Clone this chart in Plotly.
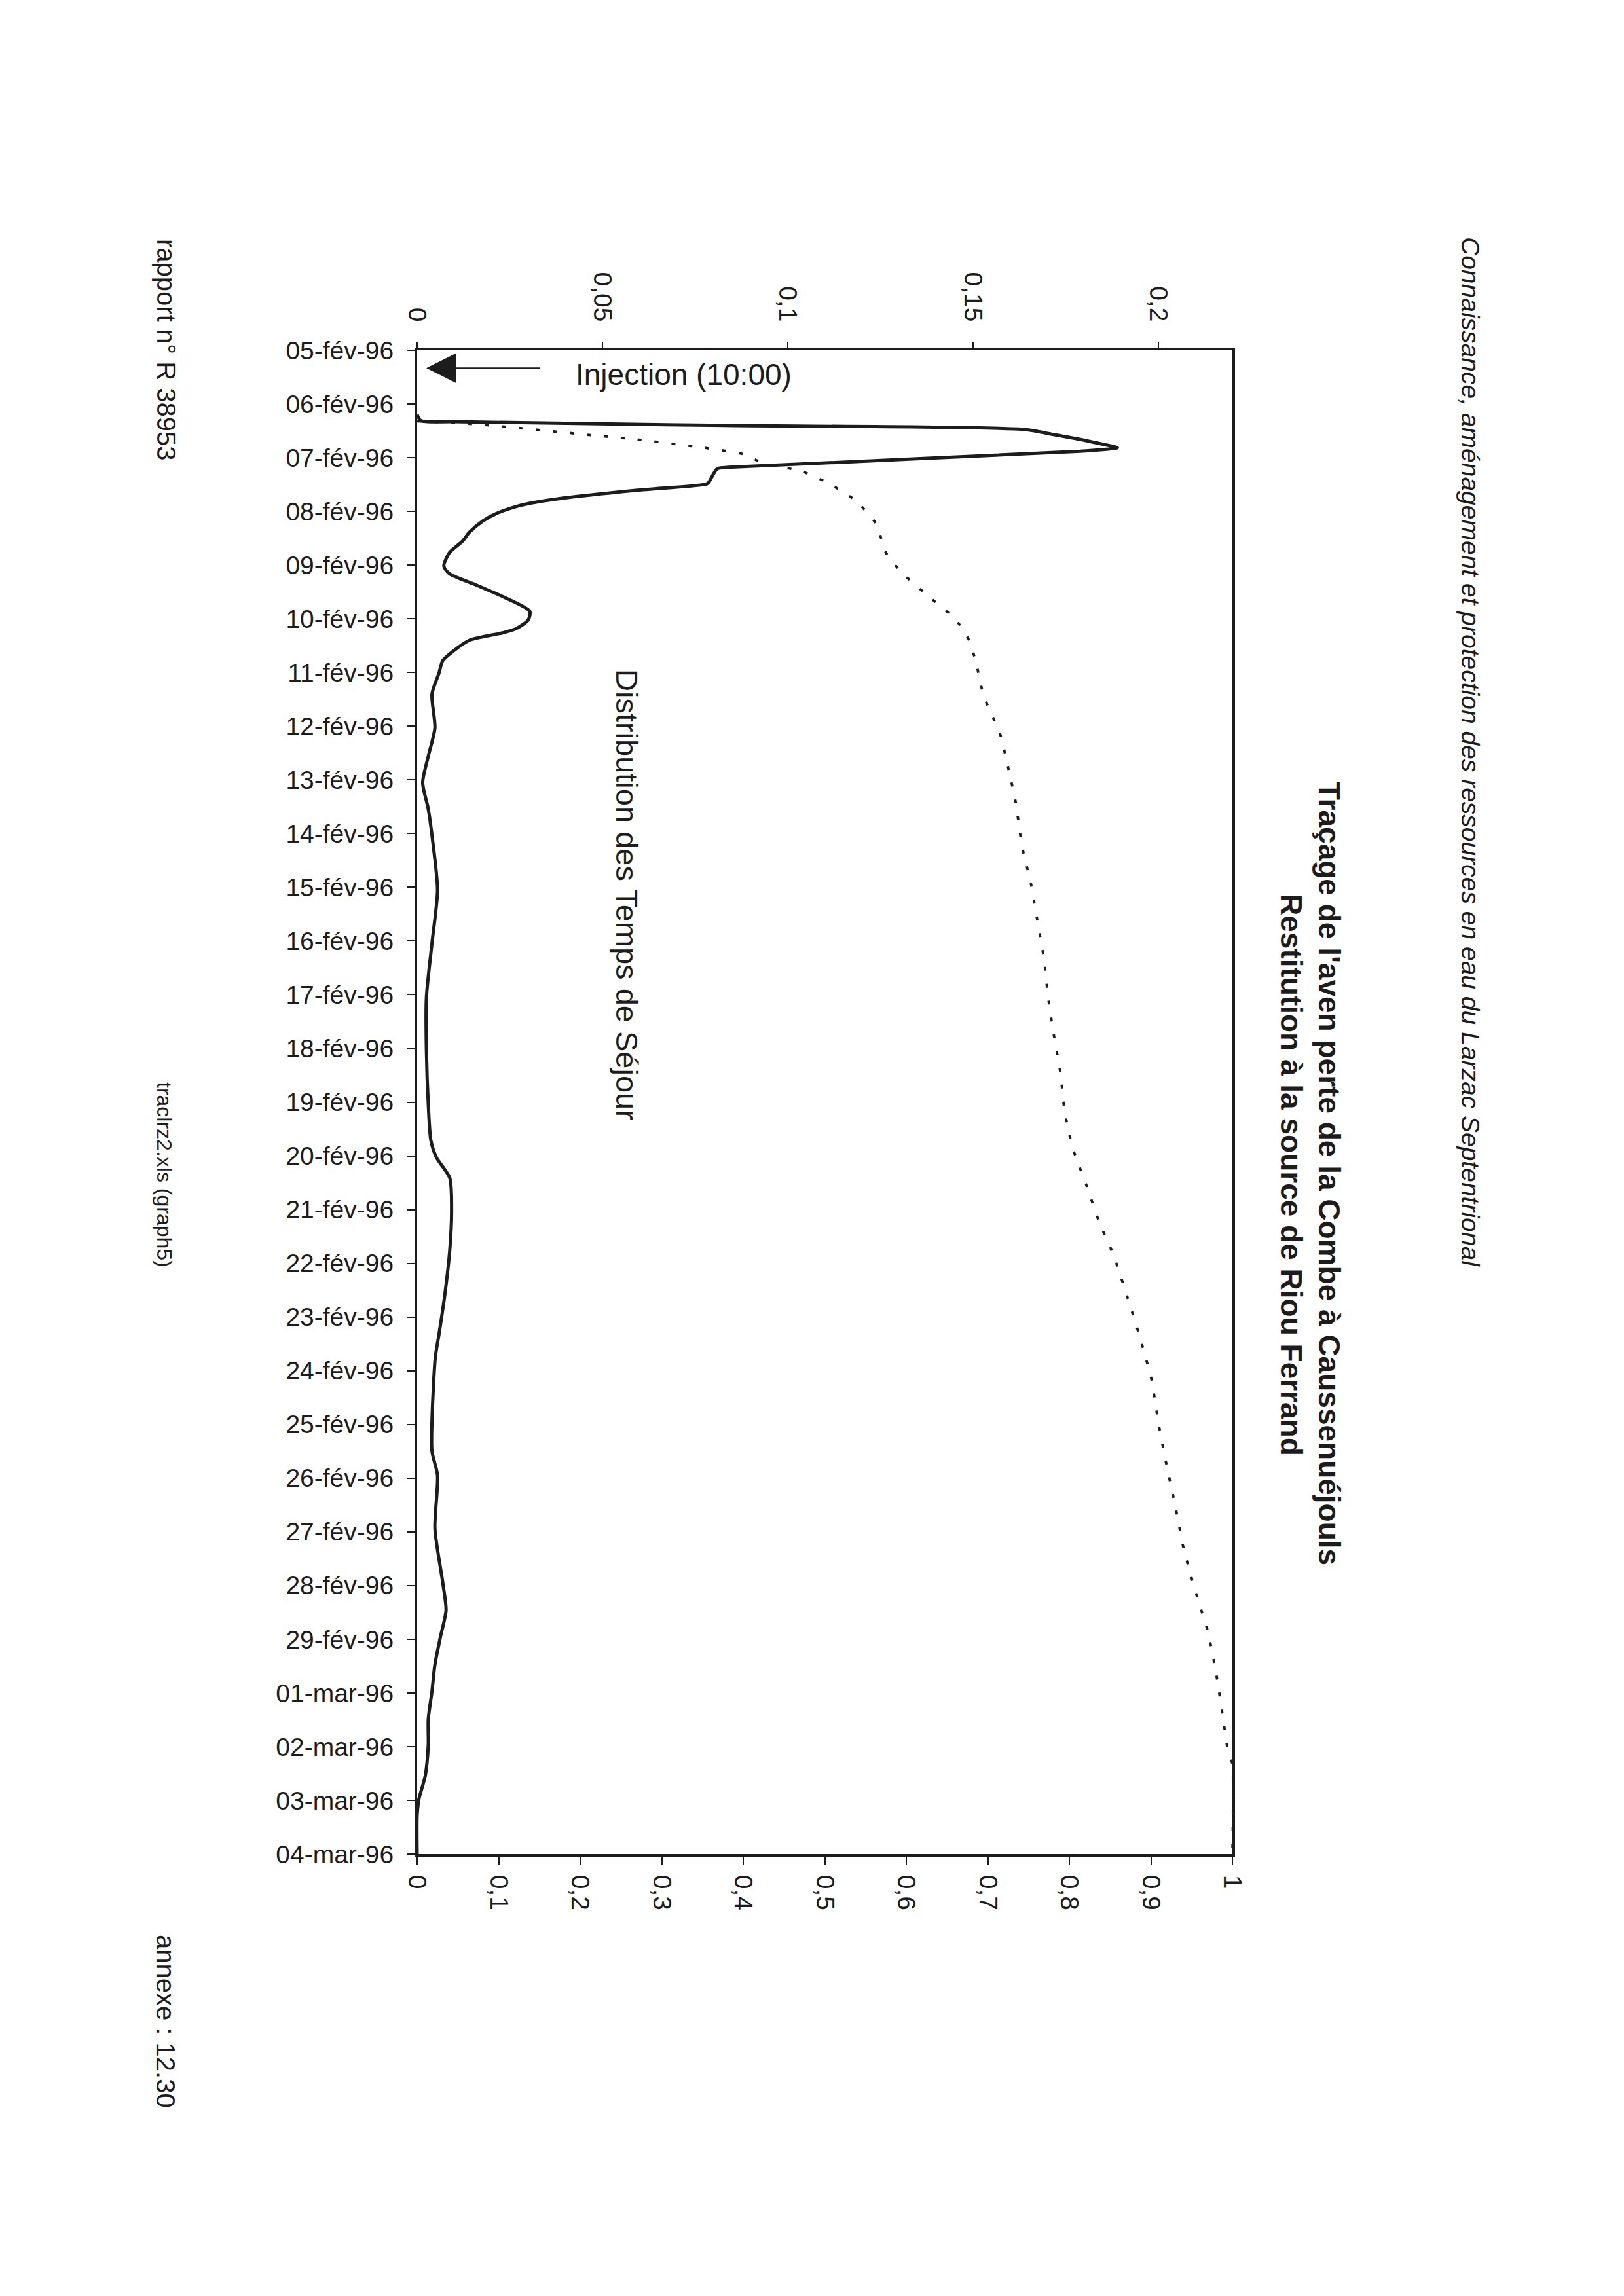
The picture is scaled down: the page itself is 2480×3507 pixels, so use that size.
import plotly.graph_objects as go
import pandas as pd

# ---------------- data ----------------
START = "1996-02-05"

# Distribution des Temps de Séjour (top axis, 0-0.22) — days after 05-fév-96 00:00
dts_days = [1.20, 1.31, 1.33, 1.40, 1.475, 1.56, 1.66, 1.75, 1.815, 1.88, 2.18, 2.205,
            2.30, 2.475, 2.50, 2.61, 2.77, 2.85, 2.91, 3.04, 3.18, 3.39, 3.55, 3.77,
            4.02, 4.16, 4.37, 4.59, 4.86, 5.02, 5.18, 5.26, 5.40, 5.61, 5.78, 6.01,
            6.40, 7.03, 7.56, 8.05, 8.54, 9.03, 10.05, 11.04, 12.05, 13.03, 14.03,
            14.71, 15.03, 15.41, 16.01, 16.76, 17.62, 18.32, 18.75, 19.94, 20.50,
            20.95, 21.94, 22.94, 23.46, 23.95, 24.47, 24.97, 25.49, 25.97, 26.54,
            26.97, 27.28, 28.00]
dts_vals = [0.000, 0.001, 0.010, 0.083, 0.164, 0.171, 0.179, 0.185, 0.189, 0.179, 0.084, 0.081,
            0.080, 0.0785, 0.0775, 0.059, 0.0376, 0.0304, 0.0268, 0.0214, 0.0177, 0.0141, 0.0123, 0.0087,
            0.0072, 0.0087, 0.0159, 0.0232, 0.0304, 0.0300, 0.0268, 0.0232, 0.0141, 0.0096, 0.0069, 0.0059,
            0.0040, 0.0048, 0.0030, 0.0015, 0.0030, 0.0040, 0.0055, 0.0040, 0.0025, 0.0025, 0.0030,
            0.0037, 0.0052, 0.0088, 0.0093, 0.0088, 0.0074, 0.0059, 0.0049, 0.0040, 0.0040,
            0.0055, 0.0048, 0.0069, 0.0078, 0.0063, 0.0048, 0.0040, 0.0030, 0.0030, 0.0022,
            0.0005, 0.0000, 0.0000]

# Restitution cumulée (bottom axis, 0-1)
cum_days = [1.32, 1.36, 1.46, 1.58, 1.66, 1.81, 1.93, 2.09, 2.26, 2.48, 2.80, 3.23, 3.77,
            4.15, 4.59, 5.02, 5.40, 5.78, 6.44, 7.14, 7.84, 8.40, 9.24, 9.94, 10.64,
            11.34, 12.05, 12.75, 13.45, 14.15, 14.85, 15.55, 16.25, 16.84, 17.62, 18.40,
            19.18, 19.95, 20.74, 21.52, 22.30, 23.08, 23.86, 24.63, 25.41, 26.03, 26.33, 28.00]
cum_vals = [0.000, 0.057, 0.134, 0.213, 0.269, 0.349, 0.399, 0.423, 0.473, 0.505, 0.538, 0.563, 0.575,
            0.595, 0.628, 0.661, 0.677, 0.685, 0.695, 0.715, 0.726, 0.734, 0.742, 0.753, 0.761,
            0.769, 0.774, 0.781, 0.789, 0.794, 0.804, 0.821, 0.837, 0.854, 0.871, 0.887,
            0.901, 0.909, 0.919, 0.930, 0.940, 0.954, 0.970, 0.980, 0.988, 0.994, 1.000, 1.000]

date_ticks = ["1996-02-05", "1996-02-06", "1996-02-07", "1996-02-08", "1996-02-09", "1996-02-10",
              "1996-02-11", "1996-02-12", "1996-02-13", "1996-02-14", "1996-02-15", "1996-02-16",
              "1996-02-17", "1996-02-18", "1996-02-19", "1996-02-20", "1996-02-21", "1996-02-22",
              "1996-02-23", "1996-02-24", "1996-02-25", "1996-02-26", "1996-02-27", "1996-02-28",
              "1996-02-29", "1996-03-01", "1996-03-02", "1996-03-03", "1996-03-04"]
date_labels = ["05-fév-96", "06-fév-96", "07-fév-96", "08-fév-96", "09-fév-96", "10-fév-96",
               "11-fév-96", "12-fév-96", "13-fév-96", "14-fév-96", "15-fév-96", "16-fév-96",
               "17-fév-96", "18-fév-96", "19-fév-96", "20-fév-96", "21-fév-96", "22-fév-96",
               "23-fév-96", "24-fév-96", "25-fév-96", "26-fév-96", "27-fév-96", "28-fév-96",
               "29-fév-96", "01-mar-96", "02-mar-96", "03-mar-96", "04-mar-96"]

top_ticks = [0, 0.05, 0.1, 0.15, 0.2]
top_labels = ["0", "0,05", "0,1", "0,15", "0,2"]
top_range = [0, 0.22]
bottom_ticks = [0, 0.1, 0.2, 0.3, 0.4, 0.5, 0.6, 0.7, 0.8, 0.9, 1.0]
bottom_labels = ["0", "0,1", "0,2", "0,3", "0,4", "0,5", "0,6", "0,7", "0,8", "0,9", "1"]
bottom_range = [0, 1]
date_range = ["1996-03-04", "1996-02-05"]   # reversed: time runs downward
injection_time = "1996-02-05 08:00"

# ---------------- figure ----------------
t0 = pd.Timestamp(START)
dts_t = t0 + pd.to_timedelta(dts_days, unit="D")
cum_t = t0 + pd.to_timedelta(cum_days, unit="D")

INK = "#1c1c1c"
FONT = "Liberation Sans"

fig = go.Figure()
fig.add_trace(go.Scatter(
    x=dts_vals, y=dts_t, xaxis="x2", yaxis="y", mode="lines",
    line=dict(color=INK, width=5, shape="spline", smoothing=0.7),
    showlegend=False, hoverinfo="skip"))
fig.add_trace(go.Scatter(
    x=cum_vals, y=cum_t, xaxis="x", yaxis="y", mode="lines",
    line=dict(color=INK, width=3.8, dash="6px,20px", shape="spline", smoothing=0.5),
    showlegend=False, hoverinfo="skip"))

tickfont = dict(family=FONT, size=39, color=INK)
common = dict(showgrid=False, zeroline=False, tickcolor=INK, tickwidth=2, linecolor=INK)

L, R, T, B = 629, 606, 527, 683
W, H = 2480, 3507
PW, PH = W - L - R, H - T - B


def px(x):
    return (x - L) / PW


def py(y):
    return (H - B - y) / PH


fig.update_layout(
    width=W, height=H,
    margin=dict(l=L, r=R, t=T, b=B, pad=0),
    paper_bgcolor="white", plot_bgcolor="white",
    showlegend=False,
    xaxis=dict(range=bottom_range, tickvals=bottom_ticks, ticktext=bottom_labels,
               side="bottom", anchor="y", tickangle=90, ticks="outside", ticklen=12,
               showline=True, linewidth=4, tickfont=tickfont, ticklabelstandoff=8, **common),
    xaxis2=dict(range=top_range, tickvals=top_ticks, ticktext=top_labels,
                overlaying="x", side="top", anchor="y", tickangle=90, ticks="outside",
                ticklen=8, showline=True, linewidth=4, tickfont=tickfont,
                ticklabelstandoff=18, **common),
    xaxis3=dict(range=bottom_range, tickvals=bottom_ticks, overlaying="x", side="bottom",
                anchor="y", ticks="inside", ticklen=12, showticklabels=False,
                showline=False, **common),
    xaxis4=dict(range=top_range, tickvals=top_ticks, overlaying="x", side="top",
                anchor="y", ticks="inside", ticklen=12, showticklabels=False,
                showline=False, **common),
    yaxis=dict(type="date", range=date_range, tickvals=date_ticks, ticktext=date_labels,
               anchor="x", side="left", ticks="outside", ticklen=12, showline=True,
               mirror=True, linewidth=4, tickfont=tickfont, ticklabelstandoff=12, **common),
    yaxis2=dict(type="date", range=date_range, tickvals=date_ticks, overlaying="y",
                anchor="x", side="left", ticks="inside", ticklen=12,
                showticklabels=False, showline=False, **common),
)

ann = []
ann.append(dict(text="<i>Connaissance, aménagement et protection des ressources en eau du Larzac Septentrional</i>",
                x=px(2238), y=py(1140), xref="paper", yref="paper", showarrow=False,
                textangle=90, xanchor="center", yanchor="middle",
                font=dict(family=FONT, size=39, color=INK)))
ann.append(dict(text="<b>Traçage de l'aven perte de la Combe à Caussenuéjouls</b>",
                x=px(2022), y=py(1784), xref="paper", yref="paper", showarrow=False,
                textangle=90, xanchor="center", yanchor="middle",
                font=dict(family=FONT, size=46, color=INK)))
ann.append(dict(text="<b>Restitution à la source de Riou Ferrand</b>",
                x=px(1964), y=py(1786), xref="paper", yref="paper", showarrow=False,
                textangle=90, xanchor="center", yanchor="middle",
                font=dict(family=FONT, size=46, color=INK)))
ann.append(dict(text="Distribution des Temps de Séjour",
                x=px(950), y=py(1358), xref="paper", yref="paper", showarrow=False,
                textangle=90, xanchor="center", yanchor="middle",
                font=dict(family=FONT, size=47, color=INK)))
ann.append(dict(text="Injection (10:00)",
                x=px(1036), y=py(564), xref="paper", yref="paper", showarrow=False,
                xanchor="center", yanchor="middle",
                font=dict(family=FONT, size=46, color=INK)))
ann.append(dict(text="", x=px(643), y=injection_time, xref="paper", yref="y",
                showarrow=True, ax=175, ay=0, axref="pixel", ayref="pixel",
                arrowhead=2, arrowsize=4, arrowwidth=2.3, arrowcolor=INK, standoff=0))
ann.append(dict(text="rapport n° R 38953", x=px(246), y=py(526), xref="paper", yref="paper",
                showarrow=False, textangle=90, xanchor="center", yanchor="middle",
                font=dict(family=FONT, size=40, color=INK)))
ann.append(dict(text="traclrz2.xls (graph5)", x=px(243), y=py(1786), xref="paper", yref="paper",
                showarrow=False, textangle=90, xanchor="center", yanchor="middle",
                font=dict(family=FONT, size=32, color=INK)))
ann.append(dict(text="annexe : 12.30", x=px(245), y=py(3080), xref="paper", yref="paper",
                showarrow=False, textangle=90, xanchor="center", yanchor="middle",
                font=dict(family=FONT, size=40, color=INK)))
fig.update_layout(annotations=ann)

fig.write_html("out.html", config={"displayModeBar": False})
